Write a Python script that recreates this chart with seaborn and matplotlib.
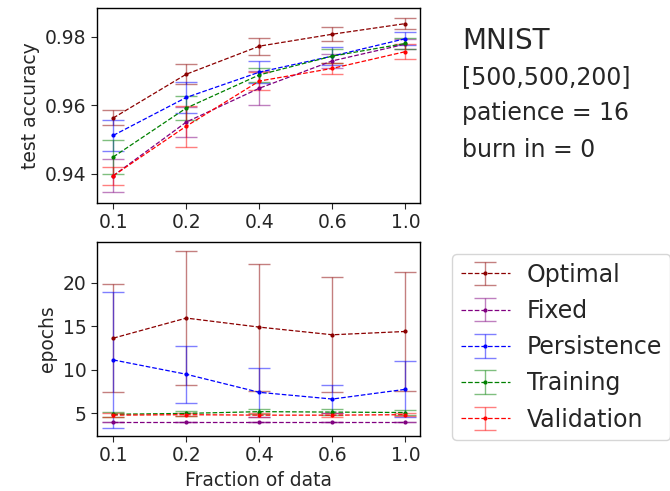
import matplotlib
matplotlib.use("Agg")
import matplotlib.pyplot as plt
import numpy as np
import seaborn as sns

fractions = ["0.1", "0.2", "0.4", "0.6", "1.0"]
methods = ["Optimal", "Fixed", "Persistence", "Training", "Validation"]
colors = ["darkred", "purple", "blue", "green", "red"]

# test accuracy (mean, std)
acc_optimal = [0.9563, 0.9691, 0.9773, 0.9808, 0.9839]
acc_optimal_err = [0.0022, 0.0030, 0.0025, 0.0020, 0.0017]
acc_fixed = [0.9394, 0.9551, 0.9650, 0.9730, 0.9779]
acc_fixed_err = [0.0048, 0.0045, 0.0050, 0.0020, 0.0015]
acc_persistence = [0.9512, 0.9623, 0.9697, 0.9744, 0.9795]
acc_persistence_err = [0.0046, 0.0046, 0.0032, 0.0026, 0.0018]
acc_training = [0.9449, 0.9592, 0.9689, 0.9744, 0.9781]
acc_training_err = [0.0050, 0.0034, 0.0020, 0.0020, 0.0015]
acc_validation = [0.9394, 0.9539, 0.9671, 0.9708, 0.9757]
acc_validation_err = [0.0027, 0.0060, 0.0027, 0.0015, 0.0022]

# epochs (mean, std)
ep_optimal = [13.65, 15.96, 14.92, 14.04, 14.42]
ep_optimal_err = [6.2, 7.7, 7.3, 6.6, 6.8]
ep_fixed = [4.0, 4.0, 4.0, 4.0, 4.0]
ep_fixed_err = [0.0, 0.0, 0.0, 0.0, 0.0]
ep_persistence = [11.15, 9.5, 7.42, 6.65, 7.77]
ep_persistence_err = [7.8, 3.3, 2.8, 1.6, 3.2]
ep_training = [4.9, 5.0, 5.2, 5.15, 5.1]
ep_training_err = [0.3, 0.3, 0.3, 0.3, 0.3]
ep_validation = [4.8, 4.85, 4.8, 4.8, 4.85]
ep_validation_err = [0.2, 0.2, 0.2, 0.2, 0.2]

acc_series = [(acc_optimal, acc_optimal_err), (acc_fixed, acc_fixed_err),
              (acc_persistence, acc_persistence_err), (acc_training, acc_training_err),
              (acc_validation, acc_validation_err)]
ep_series = [(ep_optimal, ep_optimal_err), (ep_fixed, ep_fixed_err),
             (ep_persistence, ep_persistence_err), (ep_training, ep_training_err),
             (ep_validation, ep_validation_err)]

sns.set_style("white")
plt.rcParams["font.family"] = ["DejaVu Sans"]

fig = plt.figure(figsize=(6.7, 4.91), dpi=100)
ax1 = fig.add_axes([0.145, 0.587, 0.482, 0.397])
ax2 = fig.add_axes([0.145, 0.112, 0.482, 0.395])

xpos = np.arange(len(fractions))

def draw(ax, series):
    handles = []
    for name, color, (mean, err) in zip(methods, colors, series):
        h = ax.errorbar(xpos, mean, yerr=err, fmt=".--", color=color,
                        ecolor=matplotlib.colors.to_rgba(color, 0.5),
                        elinewidth=1, capsize=8, lw=0.9, ms=4, label=name)
        handles.append(h)
    ax.set_xticks(xpos)
    ax.set_xticklabels(fractions)
    ax.set_xlim(-0.22, 4.2)
    ax.tick_params(labelsize=13.5, length=4, direction="out", bottom=True, left=True)
    for s in ax.spines.values():
        s.set_color("black")
        s.set_linewidth(1)
    return handles

draw(ax1, acc_series)
ax1.set_ylim(0.9315, 0.9885)
ax1.set_yticks([0.94, 0.96, 0.98])
ax1.set_ylabel("test accuracy", fontsize=13.5)

handles = draw(ax2, ep_series)
ax2.set_ylim(2.4, 24.7)
ax2.set_yticks([5, 10, 15, 20])
ax2.set_ylabel("epochs", fontsize=13.5)
ax2.set_xlabel("Fraction of data", fontsize=13.5)

fig.legend(handles, methods, loc="upper left", bbox_to_anchor=(0.675, 0.482),
           borderaxespad=0, fontsize=17, frameon=True, handlelength=2.1,
           borderpad=0.35, labelspacing=0.52, handletextpad=0.7)

fig.text(0.69, 0.917, "MNIST", fontsize=20, va="center")
fig.text(0.69, 0.842, "[500,500,200]", fontsize=17, va="center")
fig.text(0.69, 0.769, "patience = 16", fontsize=17, va="center")
fig.text(0.69, 0.694, "burn in = 0", fontsize=17, va="center")

fig.savefig("out.png", dpi=100)
